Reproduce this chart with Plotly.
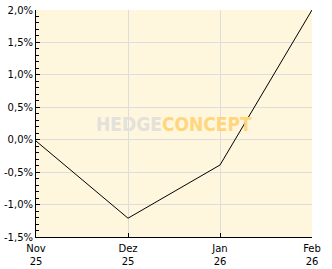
import plotly.graph_objects as go

categories = ["Nov<br>25", "Dez<br>25", "Jan<br>26", "Feb<br>26"]
values = [-0.02, -1.21, -0.39, 2.0]
ytick_vals = [-1.5, -1.0, -0.5, 0.0, 0.5, 1.0, 1.5, 2.0]
ytick_text = ["-1,5%", "-1,0%", "-0,5%", "0,0%", "0,5%", "1,0%", "1,5%", "2,0%"]

xpos = list(range(len(categories)))

fig = go.Figure()
fig.add_trace(go.Scatter(x=xpos, y=values, mode="lines",
                         line=dict(color="black", width=1), hoverinfo="skip"))

fig.update_layout(
    width=332, height=269,
    margin=dict(l=36, r=20, t=10, b=32, autoexpand=False),
    paper_bgcolor="white",
    plot_bgcolor="#FFF6DE",
    showlegend=False,
    font=dict(family="DejaVu Sans", size=10, color="black"),
    annotations=[dict(
        x=0.5, y=0.5, xref="paper", yref="paper",
        text="<b><span style='color:#E3E1DB'>HEDGE</span><span style='color:#FFD67E'>CONCEPT</span></b>",
        showarrow=False,
        font=dict(family="DejaVu Sans Condensed, Liberation Sans", size=19),
    )],
)
fig.update_xaxes(
    range=[0, 3], tickvals=xpos, ticktext=categories,
    showline=True, linecolor="black", linewidth=1,
    ticks="inside", ticklen=4, tickcolor="black",
    showgrid=True, gridcolor="#DDDDDD", gridwidth=1,
    zeroline=False, fixedrange=True, automargin=False,
    ticklabelstandoff=2,
)
fig.update_yaxes(
    range=[-1.5, 2.0], tickvals=ytick_vals, ticktext=ytick_text,
    showline=True, linecolor="black", linewidth=1,
    ticks="inside", ticklen=4, tickcolor="black",
    showgrid=True, gridcolor="#DDDDDD", gridwidth=1,
    zeroline=False, fixedrange=True, automargin=False,
    minor=dict(dtick=0.1, ticks="inside", ticklen=3, tickcolor="black", showgrid=False),
)
fig.write_html("out.html", config={"displayModeBar": False})
